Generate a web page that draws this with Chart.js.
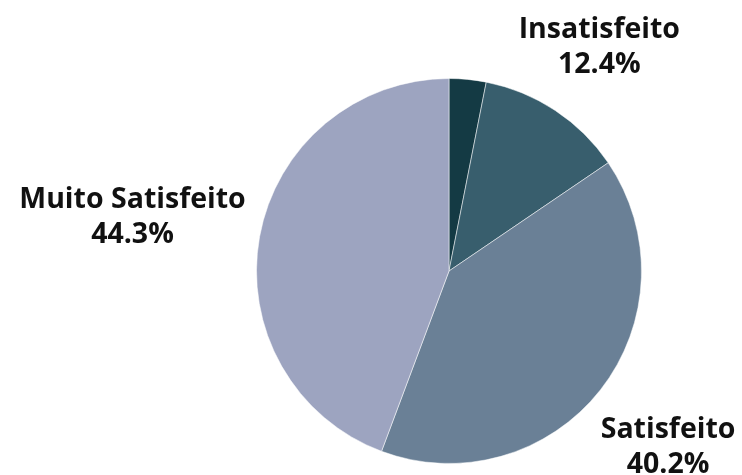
<!DOCTYPE html>
<html>
<head>
<meta charset="utf-8">
<script src="https://cdn.jsdelivr.net/npm/chart.js@4"></script>
<style>
  html, body { margin: 0; padding: 0; background: #fff; }
  #wrap { width: 742px; height: 475px; position: relative; }
</style>
</head>
<body>
<div id="wrap"><canvas id="pie" width="742" height="475"></canvas></div>
<script>
// satisfaction survey shares, clockwise from 12 o'clock
var categories = ["Muito Insatisfeito", "Insatisfeito", "Satisfeito", "Muito Satisfeito"];
var shares = [3.1, 12.4, 40.2, 44.3];
var sliceColors = ["#143a44", "#385e6d", "#6a8096", "#9da4c0"];
// only these slices get an outside label
var showLabel = [false, true, true, true];

var labelFont = "bold 28.5px 'Open Sans', 'Noto Sans', sans-serif";
var lineGap = 35;
var labelPad = 12;

// distance from the pie centre to the closest point of a box centred at (bx, by)
function nearestDist(bx, by, hw, hh) {
    var dx = Math.max(Math.abs(bx) - hw, 0);
    var dy = Math.max(Math.abs(by) - hh, 0);
    return Math.sqrt(dx * dx + dy * dy);
}

var outsideLabels = {
    id: "outsideLabels",
    afterDatasetsDraw: function (chart) {
        var ctx = chart.ctx;
        var meta = chart.getDatasetMeta(0);
        ctx.save();
        ctx.font = labelFont;
        ctx.fillStyle = "#111";
        ctx.textAlign = "center";
        ctx.textBaseline = "middle";
        meta.data.forEach(function (arc, i) {
            if (!showLabel[i]) return;
            var mid = (arc.startAngle + arc.endAngle) / 2;
            var ux = Math.cos(mid), uy = Math.sin(mid);
            var lines = [categories[i], shares[i].toFixed(1) + "%"];
            var hw = Math.max(ctx.measureText(lines[0]).width, ctx.measureText(lines[1]).width) / 2;
            var hh = lineGap;
            // slide the text box out along the slice's middle ray until it clears the pie
            var target = arc.outerRadius + labelPad;
            var lo = 0, hi = arc.outerRadius * 3;
            for (var k = 0; k < 40; k++) {
                var d = (lo + hi) / 2;
                if (nearestDist(d * ux, d * uy, hw, hh) < target) lo = d; else hi = d;
            }
            var x = arc.x + hi * ux;
            var y = arc.y + hi * uy + 4;
            ctx.fillText(lines[0], x, y - lineGap / 2);
            ctx.fillText(lines[1], x, y + lineGap / 2);
        });
        ctx.restore();
    }
};

new Chart("pie", {
    type: "pie",
    data: {
        labels: categories,
        datasets: [{
            data: shares,
            backgroundColor: sliceColors,
            borderColor: "rgba(255,255,255,0.5)",
            borderWidth: 1
        }]
    },
    options: {
        responsive: false,
        animation: false,
        layout: { padding: { left: 256, right: 100, top: 78, bottom: 11 } },
        plugins: {
            legend: { display: false },
            tooltip: { enabled: false }
        }
    },
    plugins: [outsideLabels]
});
</script>
</body>
</html>
